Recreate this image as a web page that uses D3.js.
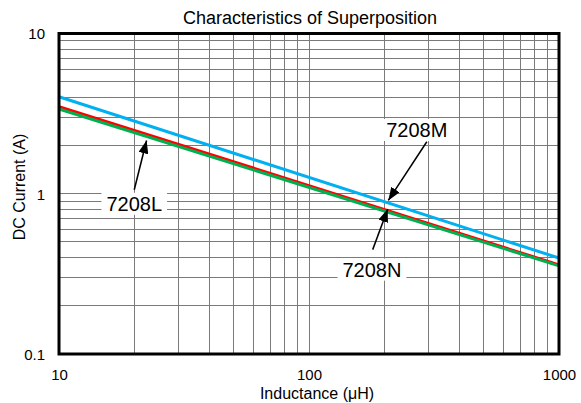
<!DOCTYPE html>
<html>
<head>
<meta charset="utf-8">
<script src="https://cdn.jsdelivr.net/npm/d3@7"></script>
<style>
  html, body { margin: 0; padding: 0; background: #fff; }
  svg { display: block; font-family: "Liberation Sans", Arial, sans-serif; }
</style>
</head>
<body>
<svg id="chart" width="581" height="403"></svg>
<script>
// ---- data ----
const inductance = [10, 1000];              // µH
const seriesNames = ["7208L", "7208M", "7208N"];
const current7208L = [3.50, 0.360];          // A
const current7208M = [4.03, 0.397];
const current7208N = [3.38, 0.355];
const xTickLabels = ["10", "100", "1000"];
const yTickLabels = ["0.1", "1", "10"];
const xTickValues = [10, 100, 1000];
const yTickValues = [0.1, 1, 10];
// annotation: label centre and arrow tail/tip in data units
const annoNames = ["7208L", "7208M", "7208N"];
const annoLabelX = [20.0, 270, 178.6];
const annoLabelY = [0.866, 2.50, 0.336];
const annoTailX = [20.0, 296, 179.8];
const annoTailY = [1.06, 2.11, 0.448];
const annoTipX = [22.4, 207.6, 206.5];
const annoTipY = [2.15, 0.9085, 0.803];

const colors = { "7208L": "#ff0000", "7208M": "#00b0f0", "7208N": "#00b050" };

(function () {
const svg = d3.select("#chart");
const pLeft = 59, pRight = 559, pTop = 33.5, pBottom = 354;
const x = d3.scaleLog().domain([10, 1000]).range([pLeft, pRight]);
const y = d3.scaleLog().domain([0.1, 10]).range([pBottom, pTop]);

// grid
const xGrid = [];
for (let d = 10; d < 1000; d *= 10) for (let k = 1; k < 10; k++) xGrid.push(d * k);
const yGrid = [];
for (let d = 0.1; d < 9; d *= 10) for (let k = 1; k < 10; k++) yGrid.push(+(d * k).toPrecision(3));

const grid = svg.append("g").attr("stroke", "#7a7a7a").attr("stroke-width", 1).attr("shape-rendering", "crispEdges");
grid.selectAll("line.v").data(xGrid).join("line").attr("class", "v")
  .attr("x1", d => x(d)).attr("x2", d => x(d)).attr("y1", pTop).attr("y2", pBottom);
grid.selectAll("line.h").data(yGrid).join("line").attr("class", "h")
  .attr("x1", pLeft).attr("x2", pRight).attr("y1", d => y(d)).attr("y2", d => y(d));

// series
const series = [
  { name: "7208M", values: current7208M },
  { name: "7208L", values: current7208L },
  { name: "7208N", values: current7208N }
];
const line = d3.line().x(d => x(d[0])).y(d => y(d[1]));
svg.append("g").selectAll("path").data(series).join("path")
  .attr("fill", "none")
  .attr("stroke", d => colors[d.name])
  .attr("stroke-width", 3)
  .attr("d", d => line(inductance.map((xv, i) => [xv, d.values[i]])));

// frame
svg.append("rect").attr("x", pLeft).attr("y", pTop).attr("width", pRight - pLeft).attr("height", pBottom - pTop)
  .attr("fill", "none").attr("stroke", "#000").attr("stroke-width", 3);

// axes labels (ticks)
const xAxis = d3.axisBottom(x).tickValues(xTickValues).tickFormat((d, i) => xTickLabels[i]).tickSize(0).tickPadding(0);
const gx = svg.append("g").attr("transform", `translate(0,${pBottom})`).call(xAxis);
gx.select(".domain").remove();
gx.selectAll("text").attr("y", 26).attr("dy", null).attr("font-size", 15).attr("font-family", "Liberation Sans, Arial, sans-serif").attr("fill", "#000");

const yAxis = d3.axisLeft(y).tickValues(yTickValues).tickFormat((d, i) => yTickLabels[i]).tickSize(0).tickPadding(0);
const gy = svg.append("g").attr("transform", `translate(45,0)`).call(yAxis);
gy.select(".domain").remove();
gy.selectAll("text").attr("x", 0).attr("dy", "0.35em").attr("font-size", 15).attr("font-family", "Liberation Sans, Arial, sans-serif").attr("fill", "#000");

// titles
svg.append("text").attr("x", 310).attr("y", 24).attr("text-anchor", "middle")
  .attr("font-size", 18).text("Characteristics of Superposition");
svg.append("text").attr("x", 317).attr("y", 399).attr("text-anchor", "middle")
  .attr("font-size", 16).text("Inductance (μH)");
svg.append("text").attr("transform", "translate(25,187) rotate(-90)").attr("text-anchor", "middle")
  .attr("font-size", 16).text("DC Current (A)");

// annotations
const defs = svg.append("defs");
defs.append("marker").attr("id", "ah").attr("viewBox", "0 0 13 10").attr("refX", 13).attr("refY", 5)
  .attr("markerWidth", 13).attr("markerHeight", 10).attr("markerUnits", "userSpaceOnUse")
  .attr("orient", "auto")
  .append("path").attr("d", "M0,0 L13,5 L0,10 Z").attr("fill", "#000");

const ag = svg.append("g");
annoNames.forEach((name, i) => {
  const g = ag.append("g");
  const t = g.append("text").attr("x", x(annoLabelX[i])).attr("y", y(annoLabelY[i]))
    .attr("dy", "0.35em").attr("text-anchor", "middle").attr("font-size", 20).text(name);
  const bb = t.node().getBBox();
  g.insert("rect", "text").attr("x", bb.x - 5).attr("y", bb.y).attr("width", bb.width + 10).attr("height", bb.height)
    .attr("fill", "#fff");
  ag.append("line")
    .attr("x1", x(annoTailX[i])).attr("y1", y(annoTailY[i]))
    .attr("x2", x(annoTipX[i])).attr("y2", y(annoTipY[i]))
    .attr("stroke", "#000").attr("stroke-width", 1.5).attr("marker-end", "url(#ah)");
});
})();
</script>
</body>
</html>
